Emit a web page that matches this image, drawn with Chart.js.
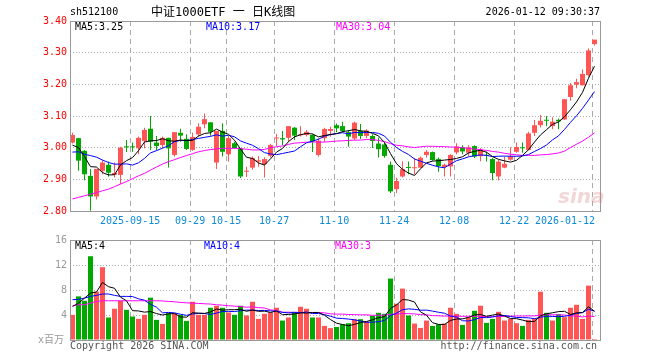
<!DOCTYPE html>
<html>
<head>
<meta charset="utf-8">
<script src="https://cdn.jsdelivr.net/npm/chart.js@4/dist/chart.umd.min.js"></script>
<style>
body { margin: 0; background: #fff; }
#wrap { position: relative; width: 660px; height: 360px; overflow: hidden; font-family: "DejaVu Sans Mono", monospace; font-size: 10px; }
canvas { position: absolute; left: 0; }
.t { position: absolute; white-space: pre; line-height: 12px; }
</style>
</head>
<body>
<div id="wrap">
  <canvas id="kline" width="660" height="232" style="top:0"></canvas>
  <canvas id="vol" width="660" height="130" style="top:230px"></canvas>

  <div class="t" style="left:70px;top:6px">sh512100</div>
  <div class="t" style="left:151px;top:5px;font-size:12px;line-height:14px;font-family:'DejaVu Sans Mono','Noto Sans CJK SC',monospace">中证1000ETF 一 日K线图</div>
  <div class="t" style="right:60px;top:6px">2026-01-12 09:30:37</div>

  <div class="t" style="left:75px;top:21px;color:#000">MA5:3.25</div>
  <div class="t" style="left:206px;top:21px;color:#0000ff">MA10:3.17</div>
  <div class="t" style="left:336px;top:21px;color:#ff00ff">MA30:3.04</div>

  <div class="t" style="left:558px;top:184px;font:italic bold 20px 'DejaVu Sans',sans-serif;color:rgba(215,120,120,0.3)">sina</div>

  <div class="t" style="left:75px;top:240px;color:#000">MA5:4</div>
  <div class="t" style="left:204px;top:240px;color:#0000ff">MA10:4</div>
  <div class="t" style="left:335px;top:240px;color:#ff00ff">MA30:3</div>

  <div class="t" style="left:38px;top:334px;color:#999;font-family:'DejaVu Sans Mono','Noto Sans CJK SC',monospace">x百万</div>
  <div class="t" style="left:70px;top:340px;color:#555">Copyright 2026 SINA.COM</div>
  <div class="t" style="right:63px;top:340px;color:#555">http://finance.sina.com.cn</div>
</div>

<script>
// daily candles, 2025-09-01 .. 2026-01-12
const opens = [3.016, 3.030, 2.990, 2.911, 2.846, 2.927, 2.946, 2.914, 2.914, 3.002,
  3.002, 2.998, 3.021, 3.060, 3.016, 3.008, 3.031, 2.977, 3.047, 3.028,
  2.993, 3.042, 3.074, 3.080, 2.953, 3.053, 2.979, 3.014, 2.998, 2.924,
  2.937, 2.956, 2.948, 2.974, 3.029, 3.030, 3.031, 3.063, 3.039, 3.040,
  3.040, 2.977, 3.030, 3.053, 3.071, 3.068, 3.049, 3.029, 3.053, 3.037,
  3.037, 3.013, 3.010, 2.946, 2.869, 2.909, 2.937, 2.935, 2.937, 2.977,
  2.986, 2.964, 2.939, 2.941, 2.985, 3.001, 2.984, 3.005, 2.973, 2.975,
  2.964, 2.909, 2.937, 2.962, 2.987, 2.999, 2.993, 3.047, 3.071, 3.086,
  3.068, 3.088, 3.089, 3.160, 3.199, 3.197, 3.229, 3.327];
const highs = [3.047, 3.031, 2.992, 2.933, 2.933, 2.960, 2.956, 2.953, 3.003, 3.024,
  3.016, 3.035, 3.063, 3.100, 3.037, 3.035, 3.031, 3.049, 3.060, 3.042,
  3.047, 3.077, 3.108, 3.080, 3.053, 3.077, 3.038, 3.019, 2.998, 2.940,
  2.972, 2.974, 2.970, 3.012, 3.043, 3.053, 3.068, 3.065, 3.068, 3.056,
  3.042, 3.030, 3.063, 3.066, 3.076, 3.082, 3.056, 3.082, 3.075, 3.058,
  3.042, 3.032, 3.016, 2.956, 2.905, 2.957, 2.956, 2.967, 2.972, 2.993,
  2.988, 2.969, 2.949, 2.979, 3.014, 3.008, 3.008, 3.008, 2.998, 2.987,
  2.967, 2.961, 2.972, 3.001, 3.016, 3.016, 3.050, 3.087, 3.103, 3.100,
  3.096, 3.092, 3.153, 3.204, 3.218, 3.247, 3.313, 3.341];
const lows = [3.013, 2.927, 2.897, 2.801, 2.836, 2.916, 2.908, 2.906, 2.885, 2.986,
  2.987, 2.979, 2.998, 2.993, 2.990, 2.998, 2.937, 2.972, 3.019, 2.993,
  2.990, 3.035, 3.061, 3.038, 2.933, 2.972, 2.956, 2.997, 2.904, 2.907,
  2.930, 2.940, 2.906, 2.969, 3.005, 3.008, 3.019, 3.024, 3.035, 3.035,
  2.986, 2.972, 3.019, 3.035, 3.049, 3.048, 3.003, 3.024, 3.027, 3.030,
  2.999, 2.969, 2.968, 2.857, 2.857, 2.906, 2.916, 2.916, 2.935, 2.969,
  2.959, 2.924, 2.909, 2.909, 2.979, 2.979, 2.972, 2.967, 2.957, 2.956,
  2.897, 2.896, 2.935, 2.959, 2.984, 2.984, 2.991, 3.037, 3.064, 3.068,
  3.058, 3.058, 3.087, 3.148, 3.188, 3.196, 3.225, 3.323];
const closes = [3.040, 2.959, 2.916, 2.846, 2.933, 2.953, 2.921, 2.920, 3.000, 3.001,
  3.001, 3.031, 3.056, 3.019, 3.005, 3.031, 2.998, 3.049, 3.038, 2.996,
  3.034, 3.066, 3.090, 3.050, 3.053, 2.987, 3.030, 2.998, 2.909, 2.925,
  2.967, 2.960, 2.964, 3.008, 3.030, 3.026, 3.068, 3.038, 3.042, 3.050,
  3.019, 3.022, 3.059, 3.059, 3.061, 3.053, 3.035, 3.079, 3.037, 3.054,
  3.021, 2.995, 2.974, 2.862, 2.895, 2.932, 2.936, 2.936, 2.968, 2.987,
  2.961, 2.942, 2.946, 2.977, 3.004, 2.988, 3.001, 2.972, 2.993, 2.974,
  2.920, 2.956, 2.949, 2.973, 3.002, 2.998, 3.045, 3.071, 3.085, 3.085,
  3.082, 3.083, 3.153, 3.197, 3.207, 3.233, 3.307, 3.341];
// volume, millions
const volumes = [4.03, 6.98, 6.28, 13.4, 7.73, 11.65, 3.6, 5.0, 6.28, 4.83,
  3.76, 3.38, 4.03, 6.77, 3.22, 2.58, 4.3, 4.3, 4.03, 3.06,
  6.12, 4.03, 4.03, 5.16, 5.48, 5.16, 4.4, 4.03, 5.48, 3.92,
  6.12, 3.38, 4.19, 4.4, 5.16, 3.11, 3.6, 4.51, 5.32, 5.0,
  3.6, 3.6, 2.26, 1.9, 2.09, 2.52, 2.68, 3.33, 3.33, 2.95,
  3.87, 4.35, 4.19, 9.83, 5.8, 8.22, 3.92, 2.63, 1.93, 3.11,
  2.26, 2.52, 2.63, 5.16, 4.19, 2.42, 3.65, 4.67, 5.48, 2.74,
  3.38, 4.51, 3.11, 3.38, 2.69, 2.26, 3.22, 3.38, 7.73, 4.35,
  3.11, 4.14, 3.65, 5.16, 5.64, 3.38, 8.7, 0.16];

// MA values before a full window exists
const ma5Head = [3.008, 3.000, 2.972, 2.940];
const ma10Head = [2.986, 2.987, 2.979, 2.975, 2.970, 2.961, 2.953, 2.948, 2.948];
const ma30Head = [2.838, 2.843, 2.848, 2.853, 2.858, 2.864, 2.869, 2.877, 2.885, 2.893,
  2.902, 2.911, 2.919, 2.929, 2.939, 2.948, 2.956, 2.962, 2.969, 2.975,
  2.981, 2.987, 2.991, 2.994, 2.996, 2.998, 2.998, 2.998, 2.997];
const vma5Head = [5.37, 5.9, 6.7, 7.5];
const vma10Head = [6.45, 6.5, 6.7, 6.98, 7.14, 7.36, 7.36, 7.14, 6.98];
const vma30Head = [5.48, 5.64, 5.64, 5.9, 6.17, 6.28, 6.28, 6.28, 6.28, 6.28,
  6.28, 6.28, 6.28, 6.28, 6.28, 6.25, 6.17, 6.12, 6.01, 5.95,
  5.9, 5.85, 5.8, 5.75, 5.64, 5.58, 5.48, 5.42, 5.37];

const tickIdx = [10, 20, 26, 34, 44, 54, 64, 74, 87];
const tickLabels = ["2025-09-15", "09-29", "10-15", "10-27", "11-10", "11-24", "12-08", "12-22", "2026-01-12"];

const UP = "#ff5555";
const DOWN = "#00a800";

Chart.defaults.font.family = '"DejaVu Sans Mono", monospace';
Chart.defaults.font.size = 10;

function movingAvg(src, n, head) {
    return src.map((v, i) => {
        if (i < n - 1) return head[i];
        let s = 0;
        for (let k = i - n + 1; k <= i; k++) s += src[k];
        return s / n;
    });
}

const colors = closes.map((c, i) => (c >= opens[i] ? UP : DOWN));

function lineDs(values, color) {
    return {
        type: "line",
        data: values.map((v, i) => ({ x: i, y: v })),
        borderColor: color,
        borderWidth: 1,
        pointRadius: 0,
        fill: false,
        tension: 0,
        order: 0
    };
}

// one slot = 6px, first candle centred at x=72.5
function xScale(h) {
    return {
        type: "linear",
        min: -2.5 / 6,
        max: 88.5 - 2.5 / 6,
        offset: false,
        bounds: "data",
        afterBuildTicks: (s) => { s.ticks = tickIdx.map((i) => ({ value: i - 0.4 })); },
        afterFit: (s) => { s.height = h; },
        ticks: { display: false },
        grid: { color: "#aaa", drawTicks: false, offset: false },
        border: { display: false, dash: [5, 4] }
    };
}

const frame = {
    id: "frame",
    afterDatasetsDraw(chart) {
        const { ctx, chartArea: a } = chart;
        ctx.save();
        ctx.strokeStyle = "#999";
        ctx.lineWidth = 1;
        ctx.strokeRect(a.left + 0.5, a.top + 0.5, a.right - a.left - 1, a.bottom - a.top);
        ctx.restore();
    }
};

const dateTicks = {
    id: "dateTicks",
    afterDraw(chart) {
        const ctx = chart.ctx;
        const x = chart.scales.x;
        ctx.save();
        ctx.font = '10px "DejaVu Sans Mono"';
        ctx.fillStyle = "#0d8bd9";
        ctx.textBaseline = "middle";
        tickIdx.forEach((idx, k) => {
            const px = x.getPixelForValue(idx - 0.4);
            const last = k === tickIdx.length - 1;
            ctx.textAlign = last ? "right" : "center";
            ctx.fillText(tickLabels[k], last ? px + 3 : px, 221);
        });
        ctx.restore();
    }
};

// Price chart
new Chart(document.getElementById("kline"), {
    type: "bar",
    data: {
        datasets: [
            lineDs(movingAvg(closes, 5, ma5Head), "#000000"),
            lineDs(movingAvg(closes, 10, ma10Head), "#0000ff"),
            lineDs(movingAvg(closes, 30, ma30Head), "#ff00ff"),
            {
                data: closes.map((c, i) => ({ x: i, y: [opens[i], c] })),
                backgroundColor: colors,
                barThickness: 5,
                minBarLength: 1,
                grouped: false,
                inflateAmount: 0,
                order: 1
            },
            {
                data: highs.map((h, i) => ({ x: i, y: [lows[i], h] })),
                backgroundColor: colors,
                barThickness: 1,
                grouped: false,
                inflateAmount: 0,
                order: 2
            }
        ]
    },
    options: {
        responsive: false,
        animation: false,
        events: [],
        layout: { padding: { left: 0, right: 59, top: 21, bottom: 0 } },
        plugins: { legend: { display: false }, tooltip: { enabled: false } },
        scales: {
            x: xScale(21),
            y: {
                min: 2.8,
                max: 3.4,
                afterFit: (s) => { s.width = 70; },
                ticks: { stepSize: 0.1, color: "#ff0000", padding: 3, callback: (v) => v.toFixed(2) },
                grid: {
                    color: (c) => (c.tick.value < 2.801 || c.tick.value > 3.399 ? "rgba(0,0,0,0)" : "#aaa"),
                    drawTicks: false
                },
                border: { display: false, dash: [1, 2] }
            }
        }
    },
    plugins: [frame, dateTicks]
});

// Volume chart
new Chart(document.getElementById("vol"), {
    type: "bar",
    data: {
        datasets: [
            lineDs(movingAvg(volumes, 5, vma5Head), "#000000"),
            lineDs(movingAvg(volumes, 10, vma10Head), "#0000ff"),
            lineDs(movingAvg(volumes, 30, vma30Head), "#ff00ff"),
            {
                data: volumes.map((v, i) => ({ x: i, y: v })),
                backgroundColor: colors,
                barThickness: 5,
                grouped: false,
                inflateAmount: 0,
                order: 1
            }
        ]
    },
    options: {
        responsive: false,
        animation: false,
        events: [],
        layout: { padding: { left: 0, right: 59, top: 10, bottom: 0 } },
        plugins: { legend: { display: false }, tooltip: { enabled: false } },
        scales: {
            x: xScale(20),
            y: {
                min: 0,
                max: 16,
                afterFit: (s) => { s.width = 70; },
                ticks: { stepSize: 4, color: "#999", padding: 3, callback: (v) => (v === 0 ? "" : v) },
                grid: {
                    color: (c) => (c.tick.value === 0 || c.tick.value === 16 ? "rgba(0,0,0,0)" : "#aaa"),
                    drawTicks: false
                },
                border: { display: false, dash: [1, 2] }
            }
        }
    },
    plugins: [frame]
});
</script>
</body>
</html>
